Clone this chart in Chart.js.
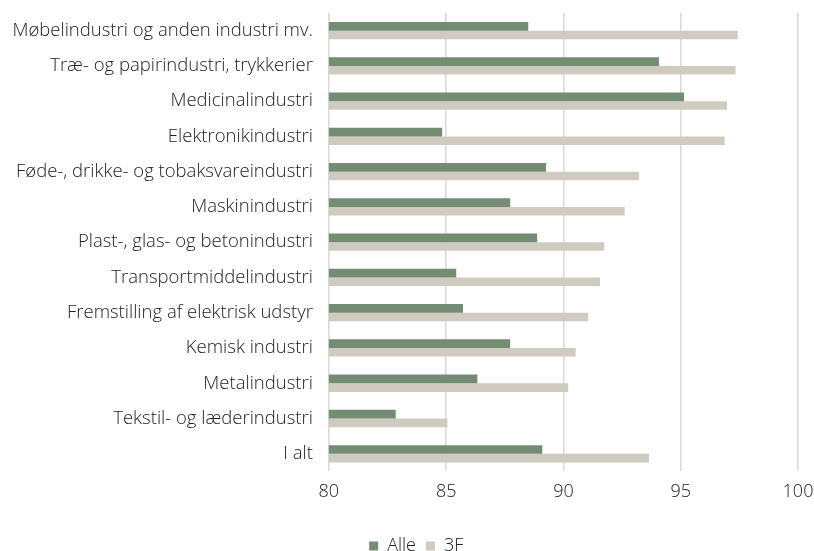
<!DOCTYPE html>
<html>
<head>
<meta charset="utf-8">
<script src="https://cdn.jsdelivr.net/npm/chart.js@4/dist/chart.umd.min.js"></script>
<style>
html,body{margin:0;padding:0;background:#fff;}
#wrap{width:814px;height:551px;position:relative;}
</style>
</head>
<body>
<div id="wrap"><canvas id="c"></canvas></div>
<script>
const categories = [
  "Møbelindustri og anden industri mv.",
  "Træ- og papirindustri, trykkerier",
  "Medicinalindustri",
  "Elektronikindustri",
  "Føde-, drikke- og tobaksvareindustri",
  "Maskinindustri",
  "Plast-, glas- og betonindustri",
  "Transportmiddelindustri",
  "Fremstilling af elektrisk udstyr",
  "Kemisk industri",
  "Metalindustri",
  "Tekstil- og læderindustri",
  "I alt"
];
const alleValues = [88.5, 94.07, 95.14, 84.83, 89.26, 87.73, 88.88, 85.43, 85.72, 87.73, 86.33, 82.85, 89.1];
const f3Values = [97.43, 97.34, 96.97, 96.87, 93.22, 92.61, 91.74, 91.56, 91.06, 90.52, 90.2, 85.05, 93.65];
const xTicks = [80, 85, 90, 95, 100];

const FONT = "'Open Sans', 'DejaVu Sans', sans-serif";
const shiftLegend = {
  id: 'shiftLegend',
  afterLayout(chart) {
    if (chart.legend) { chart.legend.left += 7; chart.legend.right += 7; }
  }
};
new Chart(document.getElementById('c'), {
  type: 'bar',
  data: {
    labels: categories,
    datasets: [
      {label: 'Alle', data: alleValues, backgroundColor: '#738c73', barPercentage: 1, categoryPercentage: 0.49},
      {label: '3F', data: f3Values, backgroundColor: '#cfcbc1', barPercentage: 1, categoryPercentage: 0.49}
    ]
  },
  options: {
    indexAxis: 'y',
    responsive: true,
    maintainAspectRatio: false,
    animation: false,
    layout: {padding: {top: 13, right: 0, bottom: -14, left: 4.5}},
    scales: {
      x: {
        min: 80, max: 100,
        afterBuildTicks: (ax) => { ax.ticks = xTicks.map(v => ({value: v})); },
        afterFit: (scale) => { scale.height += 14; scale.paddingRight = 16; },
        grid: {color: '#dadada', lineWidth: 1.6, drawTicks: false},
        border: {display: false},
        ticks: {color: '#222', font: {family: FONT, size: 18, weight: 300}, padding: 10}
      },
      y: {
        afterFit: (scale) => { scale.paddingTop = 0; scale.paddingBottom = 0; },
        grid: {display: false},
        border: {display: false},
        ticks: {color: '#222', font: {family: FONT, size: 18.5, weight: 300}, padding: 8}
      }
    },
    plugins: {
      legend: {
        position: 'bottom',
        labels: {boxWidth: 9, boxHeight: 9, color: '#222', font: {family: FONT, size: 18, weight: 300}, padding: 10}
      },
      tooltip: {enabled: false}
    }
  },
  plugins: [shiftLegend]
});
</script>
</body>
</html>
